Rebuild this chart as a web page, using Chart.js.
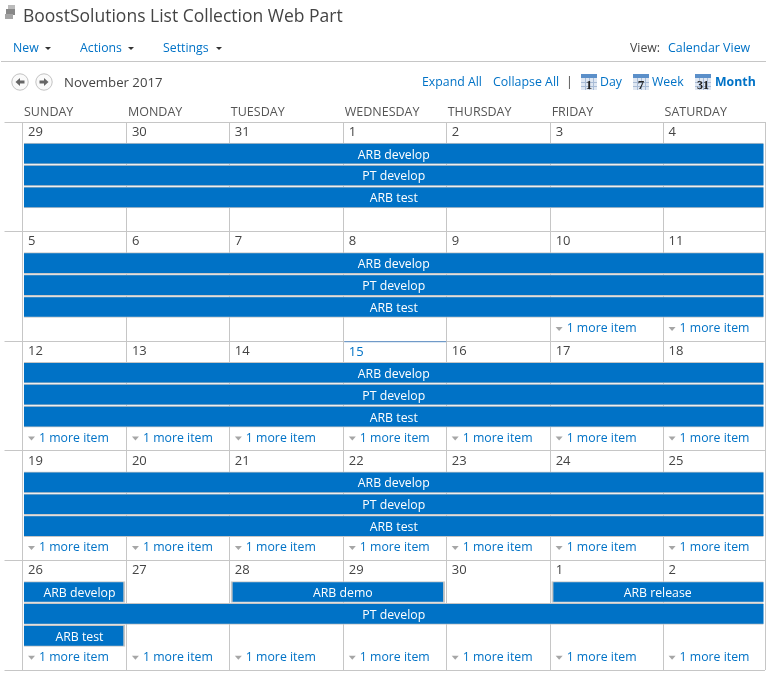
<!DOCTYPE html>
<html>
<head>
<meta charset="utf-8">
<title>BoostSolutions List Collection Web Part</title>
<script src="https://cdn.jsdelivr.net/npm/chart.js@4/dist/chart.umd.js"></script>
<style>
html,body{margin:0;padding:0;background:#fff;width:767px;height:673px;overflow:hidden;font-family:"Open Sans",sans-serif}
#wrap{position:relative;width:767px;height:673px}
canvas{position:absolute;left:0;top:0}
.t{position:absolute;white-space:nowrap;line-height:18px;font-size:12.3px;color:#0072C6}
.g{color:#444}
.title{left:23px;top:3px;font-size:17.5px;line-height:24px;color:#444}
.caret{position:absolute;width:0;height:0;border-left:3px solid transparent;border-right:3px solid transparent;border-top:3px solid #333;top:47px}
.rule{position:absolute;left:1px;top:61px;width:765px;height:1px;background:#c6c6c6}
svg{position:absolute;overflow:visible}
</style>
</head>
<body>
<div id="wrap">
<canvas id="cal" width="767" height="673"></canvas>
<svg style="left:5px;top:5px" width="11" height="16"><rect x="3" y="0" width="7" height="5" fill="#bbb"/><rect x="1" y="4" width="9" height="6" fill="#888"/><rect x="0" y="9" width="8" height="5" fill="#a5a5a5"/></svg>
<div class="t title">BoostSolutions List Collection Web Part</div>
<div class="t" style="left:13px;top:39px">New</div><div class="caret" style="left:45px"></div>
<div class="t" style="left:80px;top:39px">Actions</div><div class="caret" style="left:128px"></div>
<div class="t" style="left:163px;top:39px">Settings</div><div class="caret" style="left:216px"></div>
<div class="t g" style="left:630px;top:39px">View:</div>
<div class="t" style="left:668px;top:39px;font-size:12.4px">Calendar View</div>
<div class="rule"></div>
<svg style="left:11px;top:73px" width="18" height="18"><circle cx="9" cy="9" r="8.2" fill="#fafafa" stroke="#c2c2c2"/><path d="M4.5 9 L9 5 V7.6 H13.5 V10.4 H9 V13Z" fill="#666"/></svg>
<svg style="left:35px;top:73px" width="18" height="18"><circle cx="9" cy="9" r="8.2" fill="#fafafa" stroke="#c2c2c2"/><path d="M13.5 9 L9 5 V7.6 H4.5 V10.4 H9 V13Z" fill="#666"/></svg>
<div class="t g" style="left:64px;top:73px;font-size:13.2px">November 2017</div>
<div class="t" style="left:422px;top:73px">Expand All</div>
<div class="t" style="left:493px;top:73px;font-size:12.4px">Collapse All</div>
<div class="t g" style="left:566px;top:73px">|</div>
<svg style="left:581px;top:74px" width="16" height="16"><rect width="16" height="16" fill="#dfe7f2"/><rect width="16" height="4" fill="#5b8fc9"/><path d="M0 8.5H16M0 12.5H16M4.5 4V16M8.5 4V16M12.5 4V16" stroke="#a9bcd6"/><text x="8" y="14.5" font-family="Liberation Serif" font-weight="700" font-size="13" text-anchor="middle" fill="#222">1</text></svg>
<div class="t" style="left:600px;top:73px">Day</div>
<svg style="left:633px;top:74px" width="16" height="16"><rect width="16" height="16" fill="#dfe7f2"/><rect width="16" height="4" fill="#5b8fc9"/><path d="M0 8.5H16M0 12.5H16M4.5 4V16M8.5 4V16M12.5 4V16" stroke="#a9bcd6"/><text x="8" y="14.5" font-family="Liberation Serif" font-weight="700" font-size="13" text-anchor="middle" fill="#222">7</text></svg>
<div class="t" style="left:652px;top:73px">Week</div>
<svg style="left:695px;top:74px" width="16" height="16"><rect width="16" height="16" fill="#dfe7f2"/><rect width="16" height="4" fill="#5b8fc9"/><path d="M0 8.5H16M0 12.5H16M4.5 4V16M8.5 4V16M12.5 4V16" stroke="#a9bcd6"/><text x="8" y="14.5" font-family="Liberation Serif" font-weight="700" font-size="12" text-anchor="middle" fill="#222">31</text></svg>
<div class="t" style="left:715px;top:73px;font-weight:700">Month</div>
</div>
<script>
// ---- data ----
const dayNames = ["SUNDAY","MONDAY","TUESDAY","WEDNESDAY","THURSDAY","FRIDAY","SATURDAY"];
const week1Dates = ["29","30","31","1","2","3","4"];
const week2Dates = ["5","6","7","8","9","10","11"];
const week3Dates = ["12","13","14","15","16","17","18"];
const week4Dates = ["19","20","21","22","23","24","25"];
const week5Dates = ["26","27","28","29","30","1","2"];
const moreItems = [
  [0,0,0,0,0,0,0],
  [0,0,0,0,0,1,1],
  [1,1,1,1,1,1,1],
  [1,1,1,1,1,1,1],
  [1,1,1,1,1,1,1]
];
// [week, lane, first day column, column after last day]
const arbDevelop = [[0,1,0,7],[1,1,0,7],[2,1,0,7],[3,1,0,7],[4,1,0,1]];
const ptDevelop  = [[0,2,0,7],[1,2,0,7],[2,2,0,7],[3,2,0,7],[4,2,0,7]];
const arbTest    = [[0,3,0,7],[1,3,0,7],[2,3,0,7],[3,3,0,7],[4,3,0,1]];
const arbDemo    = [[4,1,2,4]];
const arbRelease = [[4,1,5,7]];
const columnWeights = [104,103,114,103,104,113,102];
const todayCell = [2,3];

// ---- layout constants ----
const ROWS_PER_WEEK = 5, BAR_SHIFT = -0.06, EDGE = 0.014;
const BLUE = "#0072C6", LINE = "#c6c6c6", FONT = '"Open Sans", sans-serif';
const allDates = [week1Dates,week2Dates,week3Dates,week4Dates,week5Dates];

class WeekColumnScale extends Chart.LinearScale {
  static id = "weekColumns";
  static defaults = Chart.LinearScale.defaults;
  _cum(v){
    const total = columnWeights.reduce((a,b)=>a+b,0);
    let c = 0, i = 0;
    const f = Math.max(0, Math.min(7, v));
    for (; i < 7 && i + 1 <= f; i++) c += columnWeights[i];
    if (i < 7) c += (f - i) * columnWeights[i];
    return c / total;
  }
  getPixelForValue(v){ return this.left + this.width * this._cum(v); }
}
Chart.register(WeekColumnScale);

const toBars = rows => rows.map(([w,l,a,b]) => ({
  x:[a + EDGE, b - EDGE],
  y:w * ROWS_PER_WEEK + l + 0.5 + BAR_SHIFT,
  closedLeft:a > 0, closedRight:b < 7
}));
const mk = (label, rows) => ({
  label, data:toBars(rows), backgroundColor:BLUE, borderColor:LINE,
  barThickness:21, borderSkipped:false,
  borderWidth:c => { const r=c.raw||{}; return {top:1,bottom:1,left:r.closedLeft?2:0,right:r.closedRight?2:0}; }
});

const cellText = {
  id:"cellText",
  afterDatasetsDraw(chart){
    const {ctx, scales:{x,y}} = chart;
    ctx.save();
    ctx.textBaseline = "middle"; ctx.textAlign = "left";
    allDates.forEach((row,w) => {
      const top = y.getPixelForValue(w * ROWS_PER_WEEK);
      row.forEach((d,c) => {
        const left = x.getPixelForValue(c);
        const isToday = w === todayCell[0] && c === todayCell[1];
        if (isToday) {
          ctx.fillStyle = "#5b8fc9";
          ctx.fillRect(left + 1, top, x.getPixelForValue(c + 1) - left - 1, 1);
        }
        ctx.fillStyle = isToday ? BLUE : "#444";
        ctx.font = "13px " + FONT;
        ctx.fillText(d, left + 5.5, top + 10 + (isToday ? 1 : 0));
        if (moreItems[w][c]) {
          const my = top + 96.8;
          ctx.fillStyle = "#a6a6a6";
          ctx.beginPath();
          ctx.moveTo(left + 5.5, my - 1.5); ctx.lineTo(left + 12.5, my - 1.5); ctx.lineTo(left + 9, my + 2.5);
          ctx.closePath(); ctx.fill();
          ctx.fillStyle = BLUE;
          ctx.font = "12.3px " + FONT;
          ctx.fillText(moreItems[w][c] + " more item", left + 16.5, my);
        }
      });
    });
    ctx.textAlign = "center"; ctx.fillStyle = "#fff"; ctx.font = "12.3px " + FONT;
    chart.data.datasets.forEach((ds,i) => {
      chart.getDatasetMeta(i).data.forEach((el,j) => {
        const r = ds.data[j];
        const shift = r.closedRight ? 5 : 0;
        ctx.fillText(ds.label, (el.base + el.x) / 2 + shift, el.y + 1.5);
      });
    });
    ctx.restore();
  }
};

new Chart(document.getElementById("cal"), {
  type:"bar",
  data:{datasets:[
    mk("ARB develop",arbDevelop), mk("PT develop",ptDevelop), mk("ARB test",arbTest),
    mk("ARB demo",arbDemo), mk("ARB release",arbRelease)
  ]},
  options:{
    indexAxis:"y", responsive:false, animation:false, devicePixelRatio:1,
    layout:{padding:{left:5,right:1.5,top:0,bottom:3}},
    datasets:{bar:{grouped:false}},
    plugins:{legend:{display:false},tooltip:{enabled:false},title:{display:false}},
    scales:{
      x:{
        type:"weekColumns", position:"top", min:0, max:7,
        afterFit:s => { s.height = 122; },
        border:{display:false},
        grid:{color:LINE, drawTicks:false, lineWidth:1},
        ticks:{stepSize:1, autoSkip:false, maxRotation:0, minRotation:0, align:"start", padding:2, labelOffset:1.5,
          color:"#555", font:{family:FONT,size:12.5},
          callback:v => dayNames[v] || ""}
      },
      y:{
        type:"linear", reverse:true, min:0, max:25, offset:false,
        afterFit:s => { s.width = 17.5; },
        border:{display:false},
        grid:{offset:false, color:LINE, drawTicks:true, tickLength:18, tickColor:LINE, lineWidth:1},
        ticks:{stepSize:ROWS_PER_WEEK, display:false}
      }
    }
  },
  plugins:[cellText]
});
</script>
</body>
</html>
